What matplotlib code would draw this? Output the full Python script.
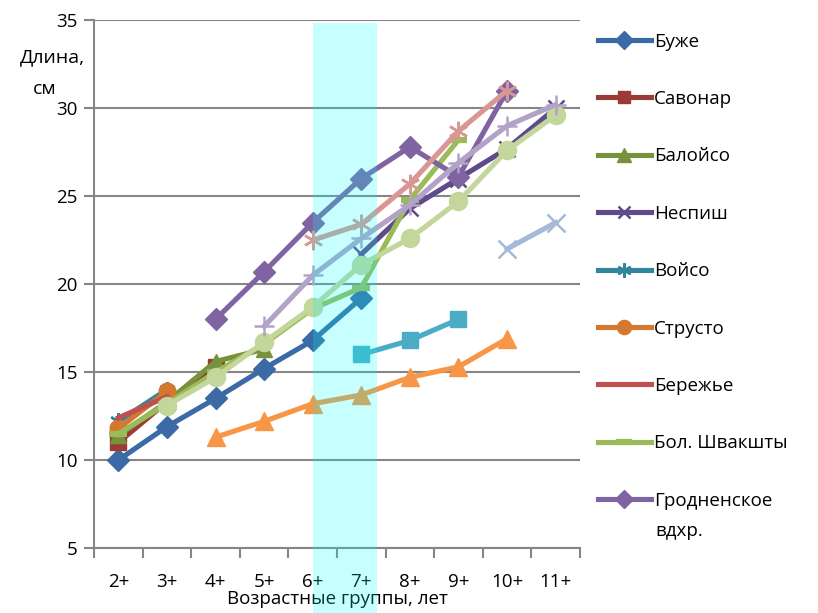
import numpy as np
import matplotlib
matplotlib.use('Agg')
import matplotlib.pyplot as plt
from matplotlib.patches import Rectangle

plt.rcParams['font.family'] = ['Open Sans', 'DejaVu Sans']

nan = np.nan
ages = ['2+', '3+', '4+', '5+', '6+', '7+', '8+', '9+', '10+', '11+']

# lengths, cm, by age group
buzhe = [10.0, 11.9, 13.5, 15.2, 16.8, 19.2, nan, nan, nan, nan]
savonar = [11.0, 13.3, 15.3, nan, nan, nan, nan, nan, nan, nan]
baloyso = [11.4, 13.3, 15.6, 16.3, nan, nan, nan, nan, nan, nan]
nespish = [nan, nan, nan, nan, nan, 21.7, 24.3, 26.0, 27.7, 30.0]
voyso = [12.2, 14.0, nan, nan, nan, nan, nan, nan, nan, nan]
strusto = [11.8, 13.9, nan, nan, nan, nan, nan, nan, nan, nan]
berezhye = [12.4, 13.6, nan, nan, nan, nan, nan, nan, nan, nan]
shvakshty = [11.5, 13.2, 15.0, 16.6, 18.6, 19.8, 24.8, 28.2, nan, nan]
grodno = [nan, nan, 18.0, 20.7, 23.5, 26.0, 27.8, 26.1, 31.0, nan]
# series that do not fit into the legend
extra_sq = [nan, nan, nan, nan, nan, 16.0, 16.8, 18.0, nan, nan]
extra_tri = [nan, nan, 11.3, 12.2, 13.2, 13.7, 14.7, 15.3, 16.9, nan]
extra_x = [nan, nan, nan, nan, nan, nan, nan, nan, 22.0, 23.5]
extra_star = [nan, nan, nan, nan, 22.5, 23.4, 25.7, 28.7, 31.0, nan]
extra_circ = [nan, 13.1, 14.7, 16.7, 18.7, 21.1, 22.6, 24.7, 27.6, 29.6]
extra_plus = [nan, nan, nan, 17.6, 20.5, 22.6, 24.5, 26.9, 29.0, 30.2]

star = (6, 2, 0)
series = [
    (buzhe, 'Буже', '#3C6AA6', 'D', 11, 1),
    (savonar, 'Савонар', '#9B3B38', 's', 11, 1),
    (baloyso, 'Балойсо', '#76923C', '^', 12, 1),
    (nespish, 'Неспиш', '#5F4A8B', 'x', 11, 1.8),
    (voyso, 'Войсо', '#31859C', star, 12, 1.8),
    (strusto, 'Струсто', '#D4782F', 'o', 12, 1),
    (berezhye, 'Бережье', '#C0504D', None, 0, 1),
    (shvakshty, 'Бол. Швакшты', '#9BBB59', '_', 13, 4.5),
    (grodno, 'Гродненское', '#8064A2', 'D', 11, 1),
    (extra_sq, None, '#4BACC6', 's', 12, 1),
    (extra_tri, None, '#F79646', '^', 13, 1),
    (extra_x, None, '#A6B9D9', 'x', 13, 1.8),
    (extra_star, None, '#D99694', star, 14, 1.8),
    (extra_circ, None, '#C3D69B', 'o', 13, 1),
    (extra_plus, None, '#B3A2C7', '+', 14, 1.8),
]

fig = plt.figure(figsize=(8.18, 6.13), dpi=100)
ax = fig.add_axes([0.115, 0.106, 0.594, 0.861])

x = np.arange(len(ages))
handles = []
for vals, label, color, marker, ms, mew in series:
    line, = ax.plot(x, vals, color=color, lw=3.7, marker=marker, ms=ms,
                    mew=mew, mec=color, mfc=color, zorder=2,
                    label=label if label else '_nolegend_')
    if label:
        handles.append(line)

# highlighted band for 6+..7+
ax.add_patch(Rectangle((4.0, -0.125), 1.33, 1.12,
                       transform=ax.get_xaxis_transform(), clip_on=False,
                       facecolor='#00FFFF', edgecolor='none', alpha=0.22,
                       zorder=5))

ax.set_xlim(-0.5, 9.5)
ax.set_ylim(5, 35)
ax.set_yticks(range(5, 36, 5))
ax.set_xticks(x)
ax.set_xticklabels(ages)
ax.set_xticks(np.arange(-0.5, 10, 1), minor=True)
ax.tick_params(axis='x', which='major', length=0, pad=18, labelsize=13.5)
ax.tick_params(axis='x', which='minor', length=7, width=1.5, color='#868686')
ax.tick_params(axis='y', length=7, width=1.5, color='#868686', pad=5,
               labelsize=13.5)
ax.grid(axis='y', color='#868686', lw=1.5)
ax.set_axisbelow(True)
for s in ['top', 'right']:
    ax.spines[s].set_visible(False)
for s in ['left', 'bottom']:
    ax.spines[s].set_color('#868686')
    ax.spines[s].set_linewidth(1.5)

ax.set_xlabel('Возрастные группы, лет', fontsize=13.5, labelpad=-1)
fig.text(52 / 818, 1 - 57 / 613, 'Длина,', fontsize=14, ha='center',
         va='center')
fig.text(33 / 818, 1 - 89 / 613, 'см', fontsize=14, ha='left',
         va='center')

leg = fig.legend(handles=handles, labels=[h.get_label() for h in handles],
                 loc='upper left', bbox_to_anchor=(0.719, 0.962),
                 frameon=False, fontsize=13.5, handlelength=2.85,
                 handletextpad=0.15, labelspacing=2.1, borderpad=0,
                 markerscale=0.85)
fig.text(655 / 818, 1 - 531 / 613, 'вдхр.', fontsize=13.5, ha='left',
         va='center')

fig.savefig('out.png', dpi=100)
